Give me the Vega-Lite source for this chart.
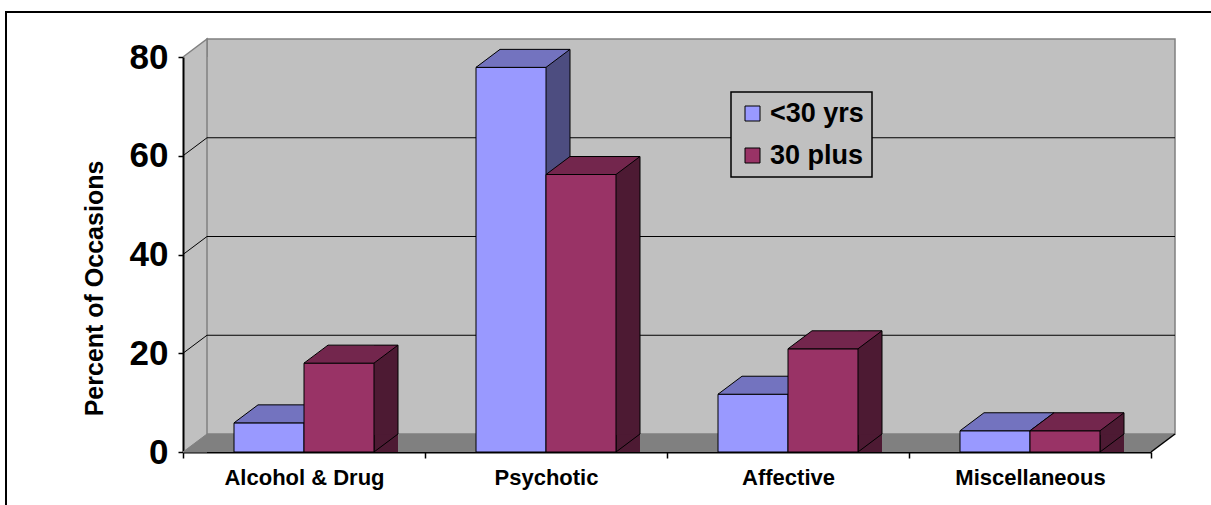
{
  "$schema": "https://vega.github.io/schema/vega-lite/v6.json",
  "width": 968,
  "height": 395,
  "autosize": {"type": "none"},
  "padding": {"left": 183, "top": 57, "right": 60, "bottom": 53},
  "background": "white",
  "datasets": {
    "bars": [
      {"cat": "Alcohol & Drug", "group": "<30 yrs", "value": 5.9},
      {"cat": "Alcohol & Drug", "group": "30 plus", "value": 18.0},
      {"cat": "Psychotic", "group": "<30 yrs", "value": 77.9},
      {"cat": "Psychotic", "group": "30 plus", "value": 56.2},
      {"cat": "Affective", "group": "<30 yrs", "value": 11.7},
      {"cat": "Affective", "group": "30 plus", "value": 20.9},
      {"cat": "Miscellaneous", "group": "<30 yrs", "value": 4.3},
      {"cat": "Miscellaneous", "group": "30 plus", "value": 4.3}
    ],
    "ticks": [{"v": 0}, {"v": 20}, {"v": 40}, {"v": 60}, {"v": 80}]
  },
  "config": {
    "font": "Liberation Sans",
    "view": {"stroke": null, "fill": "#c0c0c0"},
    "axisX": {
      "domainColor": "black", "domainWidth": 2,
      "tickColor": "black", "tickWidth": 1.5, "tickSize": 6, "tickBand": "extent",
      "labelFont": "Liberation Sans", "labelFontWeight": "bold", "labelFontSize": 22,
      "labelColor": "black", "labelPadding": 9, "labelAngle": 0, "grid": false
    },
    "axisY": {
      "domainColor": "black", "domainWidth": 2,
      "tickColor": "black", "tickWidth": 1.5, "tickSize": 5, "tickCount": 5,
      "labelFont": "Liberation Sans", "labelFontWeight": "bold", "labelFontSize": 35,
      "labelColor": "black", "labelPadding": 10, "grid": false,
      "titleFont": "Liberation Sans", "titleFontWeight": "bold", "titleFontSize": 25,
      "titleColor": "black", "titleX": -89, "titleY": 231, "titleBaseline": "middle", "titleAlign": "center"
    },
    "legend": {
      "orient": "none", "legendX": 548, "legendY": 35,
      "fillColor": "#c0c0c0", "strokeColor": "black", "strokeWidth": 1.5,
      "padding": 8, "rowPadding": 14,
      "symbolType": "square", "symbolSize": 225, "symbolStrokeColor": "black", "symbolStrokeWidth": 1, "symbolOpacity": 1,
      "labelFont": "Liberation Sans", "labelFontWeight": "bold", "labelFontSize": 27, "labelColor": "black", "labelOffset": 4
    }
  },
  "layer": [
    {
      "data": {"name": "ticks"},
      "transform": [{"filter": "datum.v == 0"}],
      "mark": {"type": "rule", "stroke": "black", "strokeWidth": 2, "xOffset": -177, "x2Offset": 70, "yOffset": -45},
      "encoding": {
        "x": {"datum": "Alcohol & Drug", "type": "nominal", "bandPosition": 0, "title": null,
              "scale": {"domain": ["Alcohol & Drug", "Psychotic", "Affective", "Miscellaneous"], "paddingInner": 0, "paddingOuter": 0}},
        "x2": {"datum": "Miscellaneous", "bandPosition": 1},
        "y": {"datum": 80, "type": "quantitative", "title": "Percent of Occasions", "scale": {"domain": [0, 80], "nice": false}}
      }
    },
    {
      "data": {"name": "ticks"},
      "transform": [{"filter": "datum.v == 0"}],
      "mark": {"type": "rule", "stroke": "black", "strokeWidth": 2, "xOffset": -177, "yOffset": -46, "y2Offset": 60},
      "encoding": {
        "x": {"datum": "Alcohol & Drug", "type": "nominal", "bandPosition": 0, "title": null},
        "y": {"datum": 80, "type": "quantitative", "title": "Percent of Occasions"},
        "y2": {"datum": 0}
      }
    },
    {
      "data": {"name": "ticks"},
      "transform": [{"filter": "datum.v == 0"}],
      "mark": {"type": "rect", "fill": "#c0c0c0", "stroke": "#808080", "strokeWidth": 1.5,
               "xOffset": 24, "x2Offset": 24, "yOffset": -18, "y2Offset": -18},
      "encoding": {
        "x": {"datum": "Alcohol & Drug", "type": "nominal", "bandPosition": 0, "title": null},
        "x2": {"datum": "Miscellaneous", "bandPosition": 1},
        "y": {"datum": 80, "type": "quantitative", "title": "Percent of Occasions"},
        "y2": {"datum": 0}
      }
    },
    {
      "data": {"name": "ticks"},
      "transform": [{"filter": "datum.v == 0"}],
      "mark": {"type": "point", "shape": "M0,0 L24,-18 L24,0", "size": 4, "filled": true,
               "fill": "#c0c0c0", "stroke": "#808080", "strokeWidth": 1.5, "opacity": 1},
      "encoding": {
        "x": {"datum": "Alcohol & Drug", "type": "nominal", "bandPosition": 0, "title": null},
        "y": {"datum": 80, "type": "quantitative", "title": "Percent of Occasions"}
      }
    },
    {
      "data": {"name": "ticks"},
      "transform": [{"filter": "datum.v == 0"}],
      "mark": {"type": "rect", "fill": "#808080", "xOffset": 24, "x2Offset": 0, "yOffset": -18, "y2Offset": 0},
      "encoding": {
        "x": {"datum": "Alcohol & Drug", "type": "nominal", "bandPosition": 0, "title": null},
        "x2": {"datum": "Miscellaneous", "bandPosition": 1},
        "y": {"datum": 0, "type": "quantitative", "title": "Percent of Occasions"},
        "y2": {"datum": 0}
      }
    },
    {
      "data": {"name": "ticks"},
      "transform": [{"filter": "datum.v == 0"}],
      "mark": {"type": "point", "shape": "M24,0 L0,0 L24,-18", "size": 4, "filled": true,
               "fill": "#808080", "stroke": "#808080", "strokeWidth": 1, "opacity": 1},
      "encoding": {
        "x": {"datum": "Alcohol & Drug", "type": "nominal", "bandPosition": 0, "title": null},
        "y": {"datum": 0, "type": "quantitative", "title": "Percent of Occasions"}
      }
    },
    {
      "data": {"name": "ticks"},
      "transform": [{"filter": "datum.v == 0"}],
      "mark": {"type": "point", "shape": "M0,0 L0,-18 L24,-18 Z", "size": 4, "filled": true,
               "fill": "#808080", "strokeWidth": 0, "opacity": 1},
      "encoding": {
        "x": {"datum": "Miscellaneous", "type": "nominal", "bandPosition": 1, "title": null},
        "y": {"datum": 0, "type": "quantitative", "title": "Percent of Occasions"}
      }
    },
    {
      "data": {"name": "ticks"},
      "transform": [{"filter": "datum.v == 0"}],
      "mark": {"type": "point", "shape": "M0,0 L24,-18", "size": 4, "filled": false,
               "stroke": "black", "strokeWidth": 1.5, "opacity": 1},
      "encoding": {
        "x": {"datum": "Miscellaneous", "type": "nominal", "bandPosition": 1, "title": null},
        "y": {"datum": 0, "type": "quantitative", "title": "Percent of Occasions"}
      }
    },
    {
      "data": {"name": "ticks"},
      "transform": [{"filter": "datum.v > 0 && datum.v < 80"}],
      "mark": {"type": "rule", "stroke": "black", "strokeWidth": 1, "xOffset": 24, "x2Offset": 24, "yOffset": -18},
      "encoding": {
        "x": {"datum": "Alcohol & Drug", "type": "nominal", "bandPosition": 0, "title": null},
        "x2": {"datum": "Miscellaneous", "bandPosition": 1},
        "y": {"field": "v", "type": "quantitative", "title": "Percent of Occasions"}
      }
    },
    {
      "data": {"name": "ticks"},
      "transform": [{"filter": "datum.v > 0 && datum.v < 80"}],
      "mark": {"type": "point", "shape": "M0,0 L24,-18", "size": 4, "filled": false,
               "stroke": "black", "strokeWidth": 1, "opacity": 1},
      "encoding": {
        "x": {"datum": "Alcohol & Drug", "type": "nominal", "bandPosition": 0, "title": null},
        "y": {"field": "v", "type": "quantitative", "title": "Percent of Occasions"}
      }
    },
    {
      "data": {"name": "bars"},
      "transform": [{"filter": "datum.group == '<30 yrs'"}],
      "mark": {"type": "bar", "size": 24, "xOffset": 12, "yOffset": -18, "y2Offset": -17, "fill": "#4D4D80"},
      "encoding": {
        "x": {"field": "cat", "type": "nominal", "title": null},
        "y": {"field": "value", "type": "quantitative", "stack": null, "title": "Percent of Occasions"}
      }
    },
    {
      "data": {"name": "bars"},
      "transform": [{"filter": "datum.group == '<30 yrs'"}],
      "mark": {"type": "point", "shape": "M59,-18 L35,0 L35,-17", "size": 4, "filled": true,
               "fill": "#4D4D80", "stroke": "black", "strokeWidth": 1, "opacity": 1},
      "encoding": {
        "x": {"field": "cat", "type": "nominal", "title": null},
        "xOffset": {"field": "group", "type": "nominal", "scale": {"domain": ["<30 yrs", "30 plus"], "paddingInner": 0, "paddingOuter": 0.7286}},
        "y": {"datum": 0, "type": "quantitative", "title": "Percent of Occasions"}
      }
    },
    {
      "data": {"name": "bars"},
      "transform": [{"filter": "datum.group == '<30 yrs'"}],
      "mark": {"type": "rule", "stroke": "black", "strokeWidth": 1, "xOffset": 24, "yOffset": -18, "y2Offset": -18},
      "encoding": {
        "x": {"field": "cat", "type": "nominal", "title": null},
        "y": {"field": "value", "type": "quantitative", "title": "Percent of Occasions"},
        "y2": {"datum": 0}
      }
    },
    {
      "data": {"name": "bars"},
      "transform": [{"filter": "datum.group == '<30 yrs'"}],
      "mark": {"type": "bar", "stroke": "black", "strokeWidth": 1},
      "encoding": {
        "x": {"field": "cat", "type": "nominal", "title": null},
        "xOffset": {"field": "group", "type": "nominal"},
        "y": {"field": "value", "type": "quantitative", "stack": null, "title": "Percent of Occasions"},
        "color": {"field": "group", "type": "nominal", "title": null,
                  "scale": {"domain": ["<30 yrs", "30 plus"], "range": ["#9999FF", "#993366"]}}
      }
    },
    {
      "data": {"name": "bars"},
      "transform": [{"filter": "datum.group == '<30 yrs'"}],
      "mark": {"type": "point", "shape": "M-35,0 L-11,-18 L59,-18 L35,0 Z", "size": 4, "filled": true,
               "fill": "#7373BF", "stroke": "black", "strokeWidth": 1, "opacity": 1},
      "encoding": {
        "x": {"field": "cat", "type": "nominal", "title": null},
        "xOffset": {"field": "group", "type": "nominal"},
        "y": {"field": "value", "type": "quantitative", "title": "Percent of Occasions"}
      }
    },
    {
      "data": {"name": "bars"},
      "transform": [{"filter": "datum.group == '30 plus'"}],
      "mark": {"type": "bar", "size": 24, "xOffset": 82, "yOffset": -18, "y2Offset": -17, "fill": "#4D1A33"},
      "encoding": {
        "x": {"field": "cat", "type": "nominal", "title": null},
        "y": {"field": "value", "type": "quantitative", "stack": null, "title": "Percent of Occasions"}
      }
    },
    {
      "data": {"name": "bars"},
      "transform": [{"filter": "datum.group == '30 plus'"}],
      "mark": {"type": "point", "shape": "M59,-18 L35,0 L35,-17", "size": 4, "filled": true,
               "fill": "#4D1A33", "stroke": "black", "strokeWidth": 1, "opacity": 1},
      "encoding": {
        "x": {"field": "cat", "type": "nominal", "title": null},
        "xOffset": {"field": "group", "type": "nominal"},
        "y": {"datum": 0, "type": "quantitative", "title": "Percent of Occasions"}
      }
    },
    {
      "data": {"name": "bars"},
      "transform": [{"filter": "datum.group == '30 plus'"}],
      "mark": {"type": "rule", "stroke": "black", "strokeWidth": 1, "xOffset": 94, "yOffset": -18, "y2Offset": -18},
      "encoding": {
        "x": {"field": "cat", "type": "nominal", "title": null},
        "y": {"field": "value", "type": "quantitative", "title": "Percent of Occasions"},
        "y2": {"datum": 0}
      }
    },
    {
      "data": {"name": "bars"},
      "transform": [{"filter": "datum.group == '30 plus'"}],
      "mark": {"type": "bar", "stroke": "black", "strokeWidth": 1},
      "encoding": {
        "x": {"field": "cat", "type": "nominal", "title": null},
        "xOffset": {"field": "group", "type": "nominal"},
        "y": {"field": "value", "type": "quantitative", "stack": null, "title": "Percent of Occasions"},
        "color": {"field": "group", "type": "nominal", "title": null}
      }
    },
    {
      "data": {"name": "bars"},
      "transform": [{"filter": "datum.group == '30 plus'"}],
      "mark": {"type": "point", "shape": "M-35,0 L-11,-18 L59,-18 L35,0 Z", "size": 4, "filled": true,
               "fill": "#73264D", "stroke": "black", "strokeWidth": 1, "opacity": 1},
      "encoding": {
        "x": {"field": "cat", "type": "nominal", "title": null},
        "xOffset": {"field": "group", "type": "nominal"},
        "y": {"field": "value", "type": "quantitative", "title": "Percent of Occasions"}
      }
    }
  ]
}
